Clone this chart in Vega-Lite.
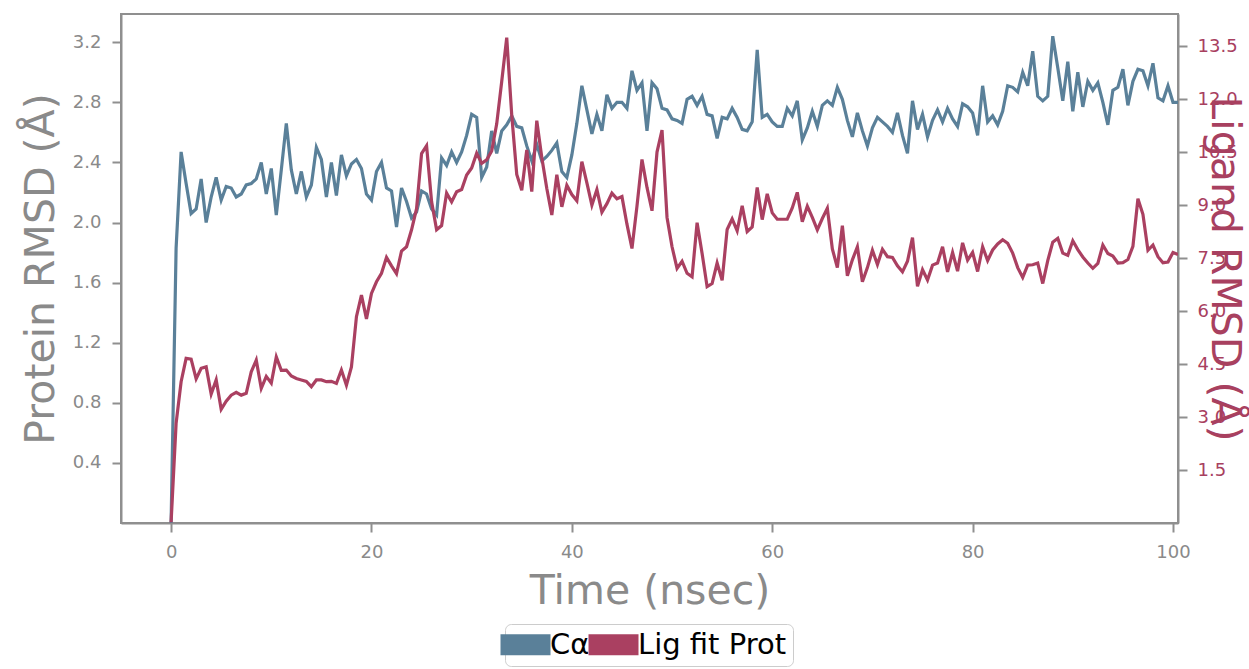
{
 "$schema": "https://vega.github.io/schema/vega-lite/v6.json",
 "width": 1057,
 "height": 509,
 "autosize": {"type": "none"},
 "padding": {"left": 121, "top": 14, "right": 71, "bottom": 146},
 "background": "white",
 "config": {"view": {"stroke": "#8f8f8f", "strokeWidth": 2}, "font": "DejaVu Sans"},
 "data": {"values": [
{"t":0,"p":0.0,"l":0.02},{"t":0.5,"p":1.83,"l":2.82},{"t":1,"p":2.47,"l":4.0},{"t":1.5,"p":2.26,"l":4.66},{"t":2,"p":2.06,"l":4.64},{"t":2.5,"p":2.09,"l":4.08},{"t":3,"p":2.29,"l":4.38},{"t":3.5,"p":2.0,"l":4.42},{"t":4,"p":2.17,"l":3.65},{"t":4.5,"p":2.30,"l":4.05},
{"t":5,"p":2.15,"l":3.22},{"t":5.5,"p":2.24,"l":3.45},{"t":6,"p":2.23,"l":3.62},{"t":6.5,"p":2.17,"l":3.70},{"t":7,"p":2.19,"l":3.62},{"t":7.5,"p":2.25,"l":3.67},{"t":8,"p":2.26,"l":4.28},{"t":8.5,"p":2.29,"l":4.61},{"t":9,"p":2.40,"l":3.81},{"t":9.5,"p":2.19,"l":4.15},
{"t":10,"p":2.36,"l":3.96},{"t":10.5,"p":2.05,"l":4.70},{"t":11,"p":2.35,"l":4.32},{"t":11.5,"p":2.66,"l":4.33},{"t":12,"p":2.35,"l":4.16},{"t":12.5,"p":2.19,"l":4.09},{"t":13,"p":2.34,"l":4.05},{"t":13.5,"p":2.17,"l":4.01},{"t":14,"p":2.25,"l":3.86},{"t":14.5,"p":2.50,"l":4.05},
{"t":15,"p":2.42,"l":4.05},{"t":15.5,"p":2.17,"l":4.0},{"t":16,"p":2.40,"l":4.01},{"t":16.5,"p":2.18,"l":3.95},{"t":17,"p":2.45,"l":4.33},{"t":17.5,"p":2.31,"l":3.9},{"t":18,"p":2.39,"l":4.42},{"t":18.5,"p":2.42,"l":5.84},{"t":19,"p":2.36,"l":6.45},{"t":19.5,"p":2.19,"l":5.78},
{"t":20,"p":2.15,"l":6.5},{"t":20.5,"p":2.34,"l":6.83},{"t":21,"p":2.40,"l":7.07},{"t":21.5,"p":2.23,"l":7.52},{"t":22,"p":2.21,"l":7.28},{"t":22.5,"p":1.97,"l":7.06},{"t":23,"p":2.23,"l":7.7},{"t":23.5,"p":2.14,"l":7.82},{"t":24,"p":2.03,"l":8.3},{"t":24.5,"p":2.07,"l":8.9},
{"t":25,"p":2.21,"l":10.46},{"t":25.5,"p":2.19,"l":10.68},{"t":26,"p":2.09,"l":9.1},{"t":26.5,"p":2.05,"l":8.3},{"t":27,"p":2.43,"l":8.42},{"t":27.5,"p":2.38,"l":9.34},{"t":28,"p":2.47,"l":9.09},{"t":28.5,"p":2.40,"l":9.38},{"t":29,"p":2.47,"l":9.44},{"t":29.5,"p":2.58,"l":9.85},
{"t":30,"p":2.72,"l":10.05},{"t":30.5,"p":2.70,"l":10.47},{"t":31,"p":2.30,"l":10.18},{"t":31.5,"p":2.37,"l":10.28},{"t":32,"p":2.61,"l":10.53},{"t":32.5,"p":2.46,"l":11.3},{"t":33,"p":2.61,"l":12.5},{"t":33.5,"p":2.65,"l":13.74},{"t":34,"p":2.71,"l":11.55},{"t":34.5,"p":2.64,"l":9.87},
{"t":35,"p":2.63,"l":9.42},{"t":35.5,"p":2.51,"l":10.56},{"t":36,"p":2.41,"l":9.38},{"t":36.5,"p":2.52,"l":11.39},{"t":37,"p":2.41,"l":10.35},{"t":37.5,"p":2.44,"l":9.47},{"t":38,"p":2.48,"l":8.72},{"t":38.5,"p":2.53,"l":9.86},{"t":39,"p":2.34,"l":8.95},{"t":39.5,"p":2.30,"l":9.56},
{"t":40,"p":2.45,"l":9.3},{"t":40.5,"p":2.66,"l":9.12},{"t":41,"p":2.91,"l":10.23},{"t":41.5,"p":2.75,"l":9.63},{"t":42,"p":2.59,"l":9.0},{"t":42.5,"p":2.72,"l":9.44},{"t":43,"p":2.61,"l":8.8},{"t":43.5,"p":2.85,"l":9.04},{"t":44,"p":2.76,"l":9.34},{"t":44.5,"p":2.80,"l":9.18},
{"t":45,"p":2.80,"l":9.24},{"t":45.5,"p":2.76,"l":8.46},{"t":46,"p":3.01,"l":7.77},{"t":46.5,"p":2.88,"l":8.97},{"t":47,"p":2.93,"l":10.29},{"t":47.5,"p":2.61,"l":9.5},{"t":48,"p":2.93,"l":8.84},{"t":48.5,"p":2.89,"l":10.5},{"t":49,"p":2.76,"l":11.12},{"t":49.5,"p":2.75,"l":8.65},
{"t":50,"p":2.69,"l":7.82},{"t":50.5,"p":2.68,"l":7.21},{"t":51,"p":2.66,"l":7.41},{"t":51.5,"p":2.82,"l":7.07},{"t":52,"p":2.84,"l":6.97},{"t":52.5,"p":2.78,"l":8.5},{"t":53,"p":2.84,"l":7.63},{"t":53.5,"p":2.72,"l":6.69},{"t":54,"p":2.71,"l":6.78},{"t":54.5,"p":2.56,"l":7.36},
{"t":55,"p":2.70,"l":6.87},{"t":55.5,"p":2.69,"l":8.31},{"t":56,"p":2.76,"l":8.61},{"t":56.5,"p":2.70,"l":8.27},{"t":57,"p":2.62,"l":8.98},{"t":57.5,"p":2.61,"l":8.25},{"t":58,"p":2.67,"l":8.38},{"t":58.5,"p":3.15,"l":9.5},{"t":59,"p":2.70,"l":8.59},{"t":59.5,"p":2.72,"l":9.32},
{"t":60,"p":2.67,"l":8.78},{"t":60.5,"p":2.64,"l":8.6},{"t":61,"p":2.64,"l":8.6},{"t":61.5,"p":2.76,"l":8.6},{"t":62,"p":2.71,"l":8.92},{"t":62.5,"p":2.81,"l":9.36},{"t":63,"p":2.55,"l":8.53},{"t":63.5,"p":2.63,"l":8.97},{"t":64,"p":2.74,"l":8.65},{"t":64.5,"p":2.64,"l":8.3},
{"t":65,"p":2.78,"l":8.62},{"t":65.5,"p":2.81,"l":8.91},{"t":66,"p":2.78,"l":7.76},{"t":66.5,"p":2.90,"l":7.23},{"t":67,"p":2.82,"l":8.42},{"t":67.5,"p":2.68,"l":7.0},{"t":68,"p":2.57,"l":7.45},{"t":68.5,"p":2.73,"l":7.82},{"t":69,"p":2.61,"l":6.83},{"t":69.5,"p":2.51,"l":7.23},
{"t":70,"p":2.63,"l":7.72},{"t":70.5,"p":2.70,"l":7.32},{"t":71,"p":2.67,"l":7.75},{"t":71.5,"p":2.64,"l":7.54},{"t":72,"p":2.60,"l":7.52},{"t":72.5,"p":2.73,"l":7.28},{"t":73,"p":2.58,"l":7.11},{"t":73.5,"p":2.46,"l":7.41},{"t":74,"p":2.81,"l":8.08},{"t":74.5,"p":2.62,"l":6.70},
{"t":75,"p":2.72,"l":7.17},{"t":75.5,"p":2.57,"l":6.88},{"t":76,"p":2.68,"l":7.30},{"t":76.5,"p":2.75,"l":7.36},{"t":77,"p":2.67,"l":7.82},{"t":77.5,"p":2.76,"l":7.11},{"t":78,"p":2.69,"l":7.66},{"t":78.5,"p":2.64,"l":7.13},{"t":79,"p":2.79,"l":7.93},{"t":79.5,"p":2.77,"l":7.44},
{"t":80,"p":2.73,"l":7.66},{"t":80.5,"p":2.58,"l":7.12},{"t":81,"p":2.91,"l":7.82},{"t":81.5,"p":2.67,"l":7.43},{"t":82,"p":2.71,"l":7.73},{"t":82.5,"p":2.65,"l":7.9},{"t":83,"p":2.74,"l":8.02},{"t":83.5,"p":2.91,"l":7.92},{"t":84,"p":2.90,"l":7.64},{"t":84.5,"p":2.87,"l":7.23},
{"t":85,"p":3.0,"l":6.95},{"t":85.5,"p":2.91,"l":7.30},{"t":86,"p":3.14,"l":7.31},{"t":86.5,"p":2.84,"l":7.36},{"t":87,"p":2.81,"l":6.78},{"t":87.5,"p":2.84,"l":7.43},{"t":88,"p":3.24,"l":7.95},{"t":88.5,"p":3.03,"l":8.06},{"t":89,"p":2.81,"l":7.64},{"t":89.5,"p":3.07,"l":7.58},
{"t":90,"p":2.74,"l":7.99},{"t":90.5,"p":3.0,"l":7.74},{"t":91,"p":2.77,"l":7.53},{"t":91.5,"p":2.94,"l":7.36},{"t":92,"p":2.88,"l":7.21},{"t":92.5,"p":2.93,"l":7.35},{"t":93,"p":2.80,"l":7.87},{"t":93.5,"p":2.65,"l":7.63},{"t":94,"p":2.88,"l":7.56},{"t":94.5,"p":2.90,"l":7.36},
{"t":95,"p":3.02,"l":7.37},{"t":95.5,"p":2.78,"l":7.46},{"t":96,"p":2.94,"l":7.83},{"t":96.5,"p":3.02,"l":9.18},{"t":97,"p":3.01,"l":8.74},{"t":97.5,"p":2.91,"l":7.72},{"t":98,"p":3.06,"l":7.87},{"t":98.5,"p":2.83,"l":7.54},{"t":99,"p":2.81,"l":7.37},{"t":99.5,"p":2.91,"l":7.39},
{"t":100,"p":2.80,"l":7.66},{"t":100.5,"p":2.80,"l":7.6}
 ]},
 "encoding": {
  "x": {"field": "t", "type": "quantitative",
   "scale": {"domain": [-5, 100.5], "nice": false, "zero": false},
   "axis": {"values": [0, 20, 40, 60, 80, 100], "grid": false, "title": "Time (nsec)",
    "domainColor": "#8f8f8f", "domainWidth": 2, "tickColor": "#8f8f8f", "tickWidth": 2, "tickSize": 9,
    "labelColor": "#8a8a8a", "labelFontSize": 18, "labelPadding": 11, "labelFont": "DejaVu Sans",
    "titleColor": "#8a8a8a", "titleFontSize": 41, "titleFontWeight": "normal", "titleFont": "DejaVu Sans",
    "titleBaseline": "alphabetic", "titleX": 528.5, "titleY": 80}}
 },
 "layer": [
  {"mark": {"type": "line", "strokeWidth": 3.2, "clip": true},
   "encoding": {
    "y": {"field": "p", "type": "quantitative",
     "scale": {"domain": [0, 3.388], "nice": false, "zero": false},
     "axis": {"orient": "left", "values": [0.4, 0.8, 1.2, 1.6, 2.0, 2.4, 2.8, 3.2], "format": ".1f", "grid": false,
      "title": "Protein RMSD (Å)",
      "domainColor": "#8f8f8f", "domainWidth": 2, "tickColor": "#8f8f8f", "tickWidth": 2, "tickSize": 9,
      "labelColor": "#8a8a8a", "labelFontSize": 18, "labelPadding": 11,
      "titleColor": "#8a8a8a", "titleFontSize": 41, "titleFontWeight": "normal",
      "titleAngle": -90, "titleBaseline": "alphabetic", "titleAlign": "center", "titleX": -68, "titleY": 254.5}},
    "color": {"datum": "Cα", "type": "nominal",
     "scale": {"domain": ["Cα", "Lig fit Prot"], "range": ["#5a8099", "#aa4061"]},
     "legend": {"orient": "none", "legendX": 384, "legendY": 610, "direction": "horizontal", "title": null,
      "symbolType": "M-2,-0.84H2V0.84H-2Z", "symbolSize": 625, "symbolStrokeWidth": 0, "symbolOpacity": 1,
      "labelFontSize": 29, "labelColor": "black", "labelFont": "DejaVu Sans", "labelOffset": 10,
      "columnPadding": -2, "padding": 6, "fillColor": "white", "strokeColor": "#cccccc", "cornerRadius": 6,
      "encode": {"symbols": {"update": {"fill": {"scale": "color", "field": "value"}, "stroke": {"value": "transparent"}, "strokeWidth": {"value": 0}}}}}}
   }},
  {"mark": {"type": "line", "strokeWidth": 3.2, "clip": true},
   "encoding": {
    "y": {"field": "l", "type": "quantitative",
     "scale": {"domain": [0, 14.41], "nice": false, "zero": false},
     "axis": {"orient": "right", "values": [1.5, 3, 4.5, 6, 7.5, 9, 10.5, 12, 13.5], "format": ".1f", "grid": false,
      "title": "Ligand RMSD (Å)",
      "domainColor": "#8f8f8f", "domainWidth": 2, "tickColor": "#8f8f8f", "tickWidth": 2, "tickSize": 9,
      "labelColor": "#a8405f", "labelFontSize": 18, "labelPadding": 10,
      "titleColor": "#a8405f", "titleFontSize": 41, "titleFontWeight": "normal",
      "titleAngle": 90, "titleBaseline": "alphabetic", "titleAlign": "center", "titleX": 33, "titleY": 254.5}},
    "color": {"datum": "Lig fit Prot", "type": "nominal"}
   }}
 ],
 "resolve": {"scale": {"y": "independent"}}
}
